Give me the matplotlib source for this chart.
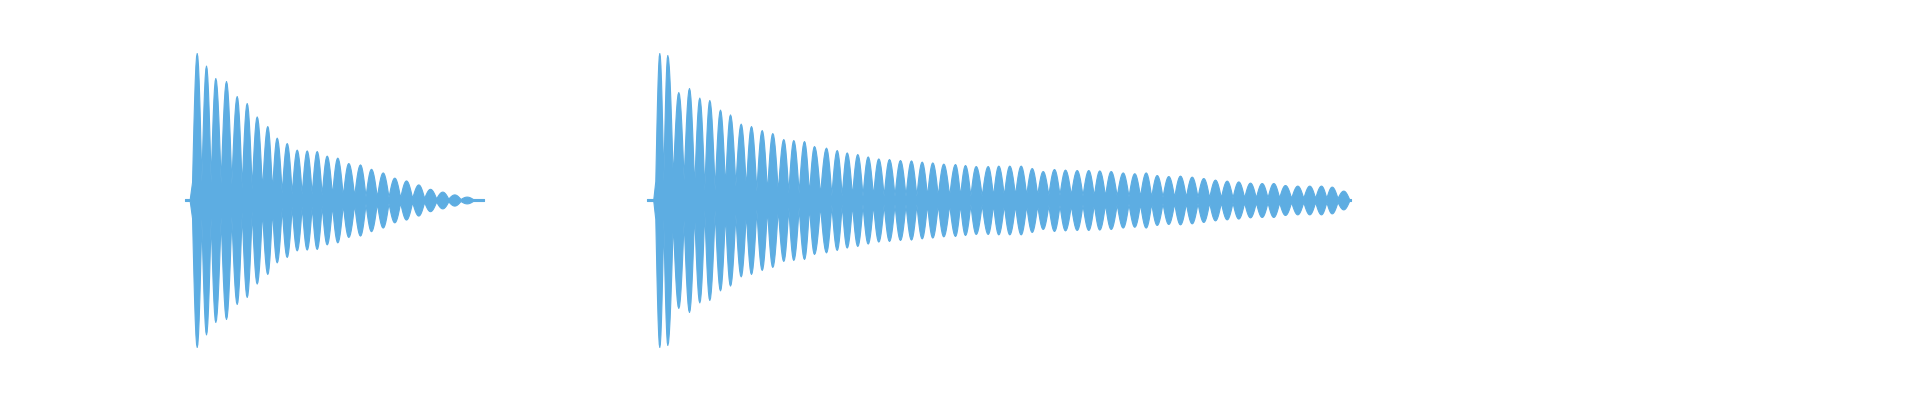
import numpy as np
import matplotlib
matplotlib.use("Agg")
import matplotlib.pyplot as plt

# Two recorded clips on a timeline (time in seconds, amplitude normalised to full scale)
clip_starts = [1.85, 6.47]
clip_ends = [4.84, 13.51]

# clip 1: time of each beat peak, peak amplitude, and amplitude in the dip after it
clip1_times = [1.967, 2.06, 2.153, 2.26, 2.367, 2.467, 2.567, 2.673, 2.767, 2.867,
               2.967, 3.067, 3.167, 3.267, 3.373, 3.483, 3.60, 3.71, 3.827, 3.943,
               4.06, 4.183, 4.30, 4.423, 4.543, 4.667]
clip1_peaks = [0.735, 0.672, 0.61, 0.595, 0.52, 0.485, 0.418, 0.37, 0.312, 0.285,
               0.252, 0.248, 0.245, 0.222, 0.212, 0.185, 0.178, 0.156, 0.138, 0.112,
               0.098, 0.078, 0.056, 0.042, 0.028, 0.017]
clip1_dips = [0.09, 0.09, 0.085, 0.08, 0.06, 0.055, 0.05, 0.045, 0.035, 0.03,
              0.03, 0.03, 0.025, 0.025, 0.02, 0.02, 0.018, 0.015, 0.015, 0.012,
              0.01, 0.01, 0.008, 0.007, 0.005]

# clip 2
clip2_times = [6.593, 6.673, 6.783, 6.89, 6.993, 7.093, 7.20, 7.30, 7.407, 7.51,
               7.617, 7.723, 7.833, 7.933, 8.04, 8.14, 8.26, 8.367, 8.467, 8.573,
               8.677, 8.783, 8.89, 9.00, 9.11, 9.217, 9.323, 9.433, 9.55, 9.65,
               9.757, 9.877, 9.983, 10.093, 10.207, 10.317, 10.427, 10.54, 10.65, 10.767,
               10.883, 10.993, 11.107, 11.227, 11.343, 11.457, 11.567, 11.683, 11.80, 11.917,
               12.033, 12.15, 12.267, 12.383, 12.50, 12.617, 12.733, 12.85, 12.973, 13.093,
               13.21, 13.317, 13.433]
clip2_peaks = [0.735, 0.725, 0.54, 0.56, 0.512, 0.50, 0.452, 0.428, 0.382, 0.37,
               0.35, 0.335, 0.305, 0.30, 0.295, 0.27, 0.262, 0.25, 0.238, 0.23,
               0.218, 0.208, 0.205, 0.20, 0.198, 0.192, 0.188, 0.182, 0.18, 0.175,
               0.17, 0.17, 0.172, 0.172, 0.172, 0.16, 0.145, 0.155, 0.152, 0.15,
               0.15, 0.148, 0.145, 0.138, 0.134, 0.138, 0.125, 0.12, 0.122, 0.117,
               0.11, 0.102, 0.097, 0.093, 0.087, 0.085, 0.085, 0.075, 0.072, 0.072,
               0.072, 0.067, 0.047]
clip2_dips = [0.095, 0.105, 0.10, 0.06, 0.05, 0.05, 0.065, 0.07, 0.06, 0.045,
              0.04, 0.04, 0.035, 0.035, 0.03, 0.025, 0.022, 0.02, 0.02, 0.02,
              0.02, 0.02, 0.02, 0.02, 0.02, 0.02, 0.02, 0.02, 0.02, 0.02,
              0.02, 0.02, 0.022, 0.025, 0.025, 0.025, 0.025, 0.025, 0.025, 0.022,
              0.02, 0.02, 0.02, 0.018, 0.018, 0.015, 0.015, 0.015, 0.015, 0.015,
              0.012, 0.012, 0.012, 0.012, 0.012, 0.012, 0.012, 0.01, 0.01, 0.01,
              0.01, 0.01]

floor = 0.005
wave_color = "#5dade2"

# shape of one beat lobe: 0 at the dip, 1 at the peak (rounded top, pinched ends)
lobe_shape = np.cos(np.linspace(np.pi / 2, 0, 8))


def envelope(start, end, times, peaks, dips):
    gap0 = times[1] - times[0]
    gap1 = times[-1] - times[-2]
    # dip positions either side of every peak
    edges = [times[0] - gap0 / 2]
    edges += [(a + b) / 2 for a, b in zip(times[:-1], times[1:])]
    edges += [times[-1] + gap1 / 2]
    lows = [dips[0]] + list(dips) + [floor]
    xs = [start, times[0] - gap0 * 0.75]
    ys = [floor, floor]
    for i, t in enumerate(times):
        left, right = edges[i], edges[i + 1]
        lo_l, lo_r = lows[i], lows[i + 1]
        xs += list(left + (t - left) * np.linspace(0, 1, len(lobe_shape)))
        ys += list(lo_l + (peaks[i] - lo_l) * lobe_shape)
        xs += list(t + (right - t) * np.linspace(0, 1, len(lobe_shape))[1:])
        ys += list(lo_r + (peaks[i] - lo_r) * lobe_shape[::-1][1:])
    xs.append(end)
    ys.append(floor)
    return np.array(xs), np.array(ys)


fig = plt.figure(figsize=(19.2, 4), dpi=100)
ax = fig.add_axes([0, 0, 1, 1])

clips = [(clip1_times, clip1_peaks, clip1_dips), (clip2_times, clip2_peaks, clip2_dips)]
for (times, peaks, dips), s, e in zip(clips, clip_starts, clip_ends):
    x, y = envelope(s, e, times, peaks, dips)
    ax.fill_between(x, -y, y, color=wave_color, linewidth=0.8, edgecolor=wave_color)

ax.set_xlim(0, 19.2)
ax.set_ylim(-1, 1)
ax.axis("off")

fig.savefig("out.png", dpi=100, facecolor="white")
